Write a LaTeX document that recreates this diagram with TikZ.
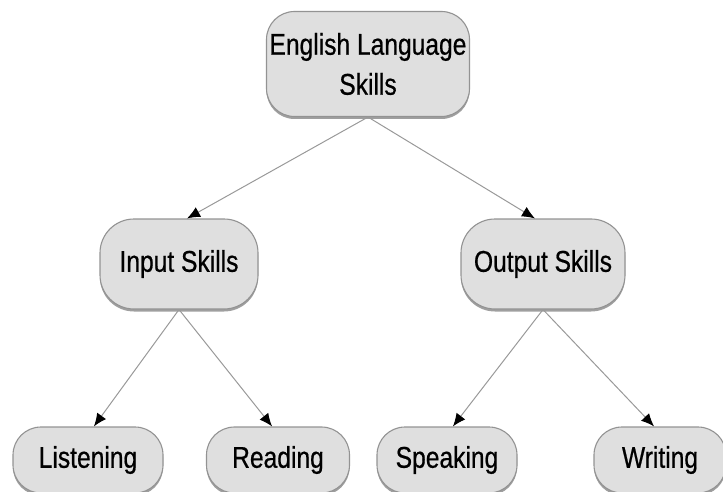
\documentclass[tikz,border=0pt]{standalone}
\usepackage{fontspec}
\newfontfamily\skillfont{Liberation Sans}[FakeStretch=0.82,FakeBold=0.6]
\usetikzlibrary{arrows.meta,shadows}

\begin{document}
\begin{tikzpicture}[x=1pt,y=-1pt,
    skill/.style={draw=gray!85,line width=1.1pt,fill=gray!25,rounded corners=34pt,
      font=\skillfont\fontsize{30}{40}\selectfont,text=black,align=center,
      drop shadow={shadow xshift=0pt,shadow yshift=-2.5pt,fill=gray!75,opacity=1},
      inner sep=0pt},
    link/.style={draw=gray!80,line width=1pt,arrows={-Latex[length=13pt,width=11pt,black]}}]
      \useasboundingbox (0,0) rectangle (723,492);

      %%%%%%%%%%%%%%%%%%%%%%%%%%%%%%%%%%%%%%%%%%%%%%%%%%%%%%%%%%%%%%%%%%%%%%%%%%%
      %%%%  Nodes
      \node[skill,rounded corners=28pt,minimum width=203pt,minimum height=105pt] (english)
        at (368,64) {English Language\\Skills};
      \node[skill,minimum width=158pt,minimum height=90pt] (input) at (179,264) {Input Skills};
      \node[skill,minimum width=164pt,minimum height=90pt] (output) at (543,264) {Output Skills};

      \foreach \name/\txt/\x/\w in {listening/Listening/88/150,reading/Reading/278/143,
                                   speaking/Speaking/447/140,writing/Writing/660/132}
       {\node[skill,rounded corners=28pt,minimum width=\w pt,minimum height=66pt]
          (\name) at (\x,460) {\txt};};

      %%%%%%%%%%%%%%%%%%%%%%%%%%%%%%%%%%%%%%%%%%%%%%%%%%%%%%%%%%%%%%%%%%%%%%%%%%%
      %%%%  Arrows
      \draw[link] (english.south) -- (input.80);
      \draw[link] (english.south) -- (output.100);
      \draw[link] (input.south) -- (listening.80);
      \draw[link] (input.south) -- (reading.100);
      \draw[link] (output.south) -- (speaking.80);
      \draw[link] (output.south) -- (writing.100);
    \end{tikzpicture}
\end{document}
